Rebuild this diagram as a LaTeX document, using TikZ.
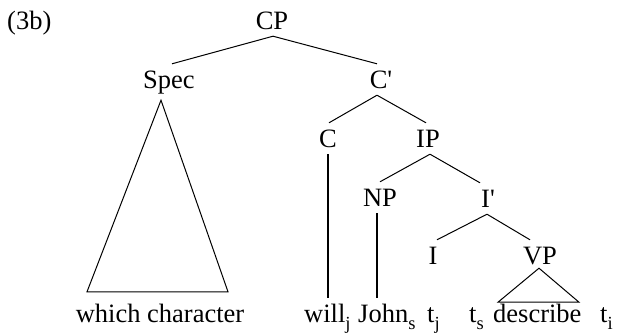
\documentclass[tikz,border=0pt]{standalone}
\usepackage{fontspec}
\setmainfont{Liberation Serif}
\newcommand\mysub[1]{\raisebox{-7pt}{\fontsize{18.5}{20}\selectfont #1}}
\newcommand\prm{\textquotesingle}
\begin{document}
\begin{tikzpicture}[x=1pt,y=1pt,
  lbl/.style={font=\fontsize{26.5}{30}\selectfont, text height=17pt, text depth=0pt,
    inner xsep=0pt, inner ysep=7pt, anchor=base},
  lblw/.style={lbl, anchor=base west},
  br/.style={line width=1pt},
  vline/.style={line width=1.3pt}]
\useasboundingbox (0,0) rectangle (620,-332);
% labels
\node[lblw] (t3b) at (7,-29) {(3b)};
\node[lbl] (cp) at (272,-29) {CP};
\node[lbl] (spec) at (169,-88) {Spec};
\node[lbl] (cbar) at (381,-88) {C\prm};
\node[lbl] (c) at (328,-147) {C};
\node[lbl] (ip) at (428,-147) {IP};
\node[lbl] (np) at (380,-206) {NP};
\node[lbl] (ibar) at (488,-207) {I\prm};
\node[lbl] (i) at (433,-264) {I};
\node[lbl] (vp) at (540,-264) {VP};
% terminals
\node[lbl] (wc) at (160,-322) {which character};
\node[lblw] (will) at (304,-322) {will\mysub{j}};
\node[lblw] (john) at (358,-322) {John\mysub{s}};
\node[lblw] (tj) at (427,-322) {t\mysub{j}};
\node[lblw] (ts) at (469,-322) {t\mysub{s}};
\node[lblw] (desc) at (493,-322) {describe};
\node[lblw] (ti) at (600,-322) {t\mysub{i}};
% branches
\draw[br] ([xshift=1pt]cp.south) -- ([xshift=3pt]spec.north);
\draw[br] ([xshift=1pt]cp.south) -- ([xshift=-4pt]cbar.north);
\draw[br] ([xshift=-4pt]cbar.south) -- ([xshift=1pt]c.north);
\draw[br] ([xshift=-4pt]cbar.south) -- ([xshift=-2pt]ip.north);
\draw[br] ([xshift=2pt]ip.south) -- (np.north);
\draw[br] ([xshift=2pt]ip.south) -- ([xshift=-8pt]ibar.north);
\draw[br] ([xshift=-1pt]ibar.south) -- ([xshift=4pt]i.north);
\draw[br] ([xshift=-1pt]ibar.south) -- ([xshift=-10pt]vp.north);
% unary lines
\draw[vline] (c.south) -- (c.south |- will.north);
\draw[vline] ([xshift=-3pt]np.south) -- ([xshift=-3pt]np.south |- john.north);
% triangles
\draw[br, line join=miter] ([xshift=-8pt,yshift=-5pt]spec.south) -- ([xshift=-73pt,yshift=6pt]wc.north) -- ([xshift=68pt,yshift=6pt]wc.north) -- cycle;
\draw[br, line join=miter] ([xshift=-1pt,yshift=3pt]vp.south) -- ++(-41,-34) -- ++(81,0) -- cycle;
\end{tikzpicture}
\end{document}
